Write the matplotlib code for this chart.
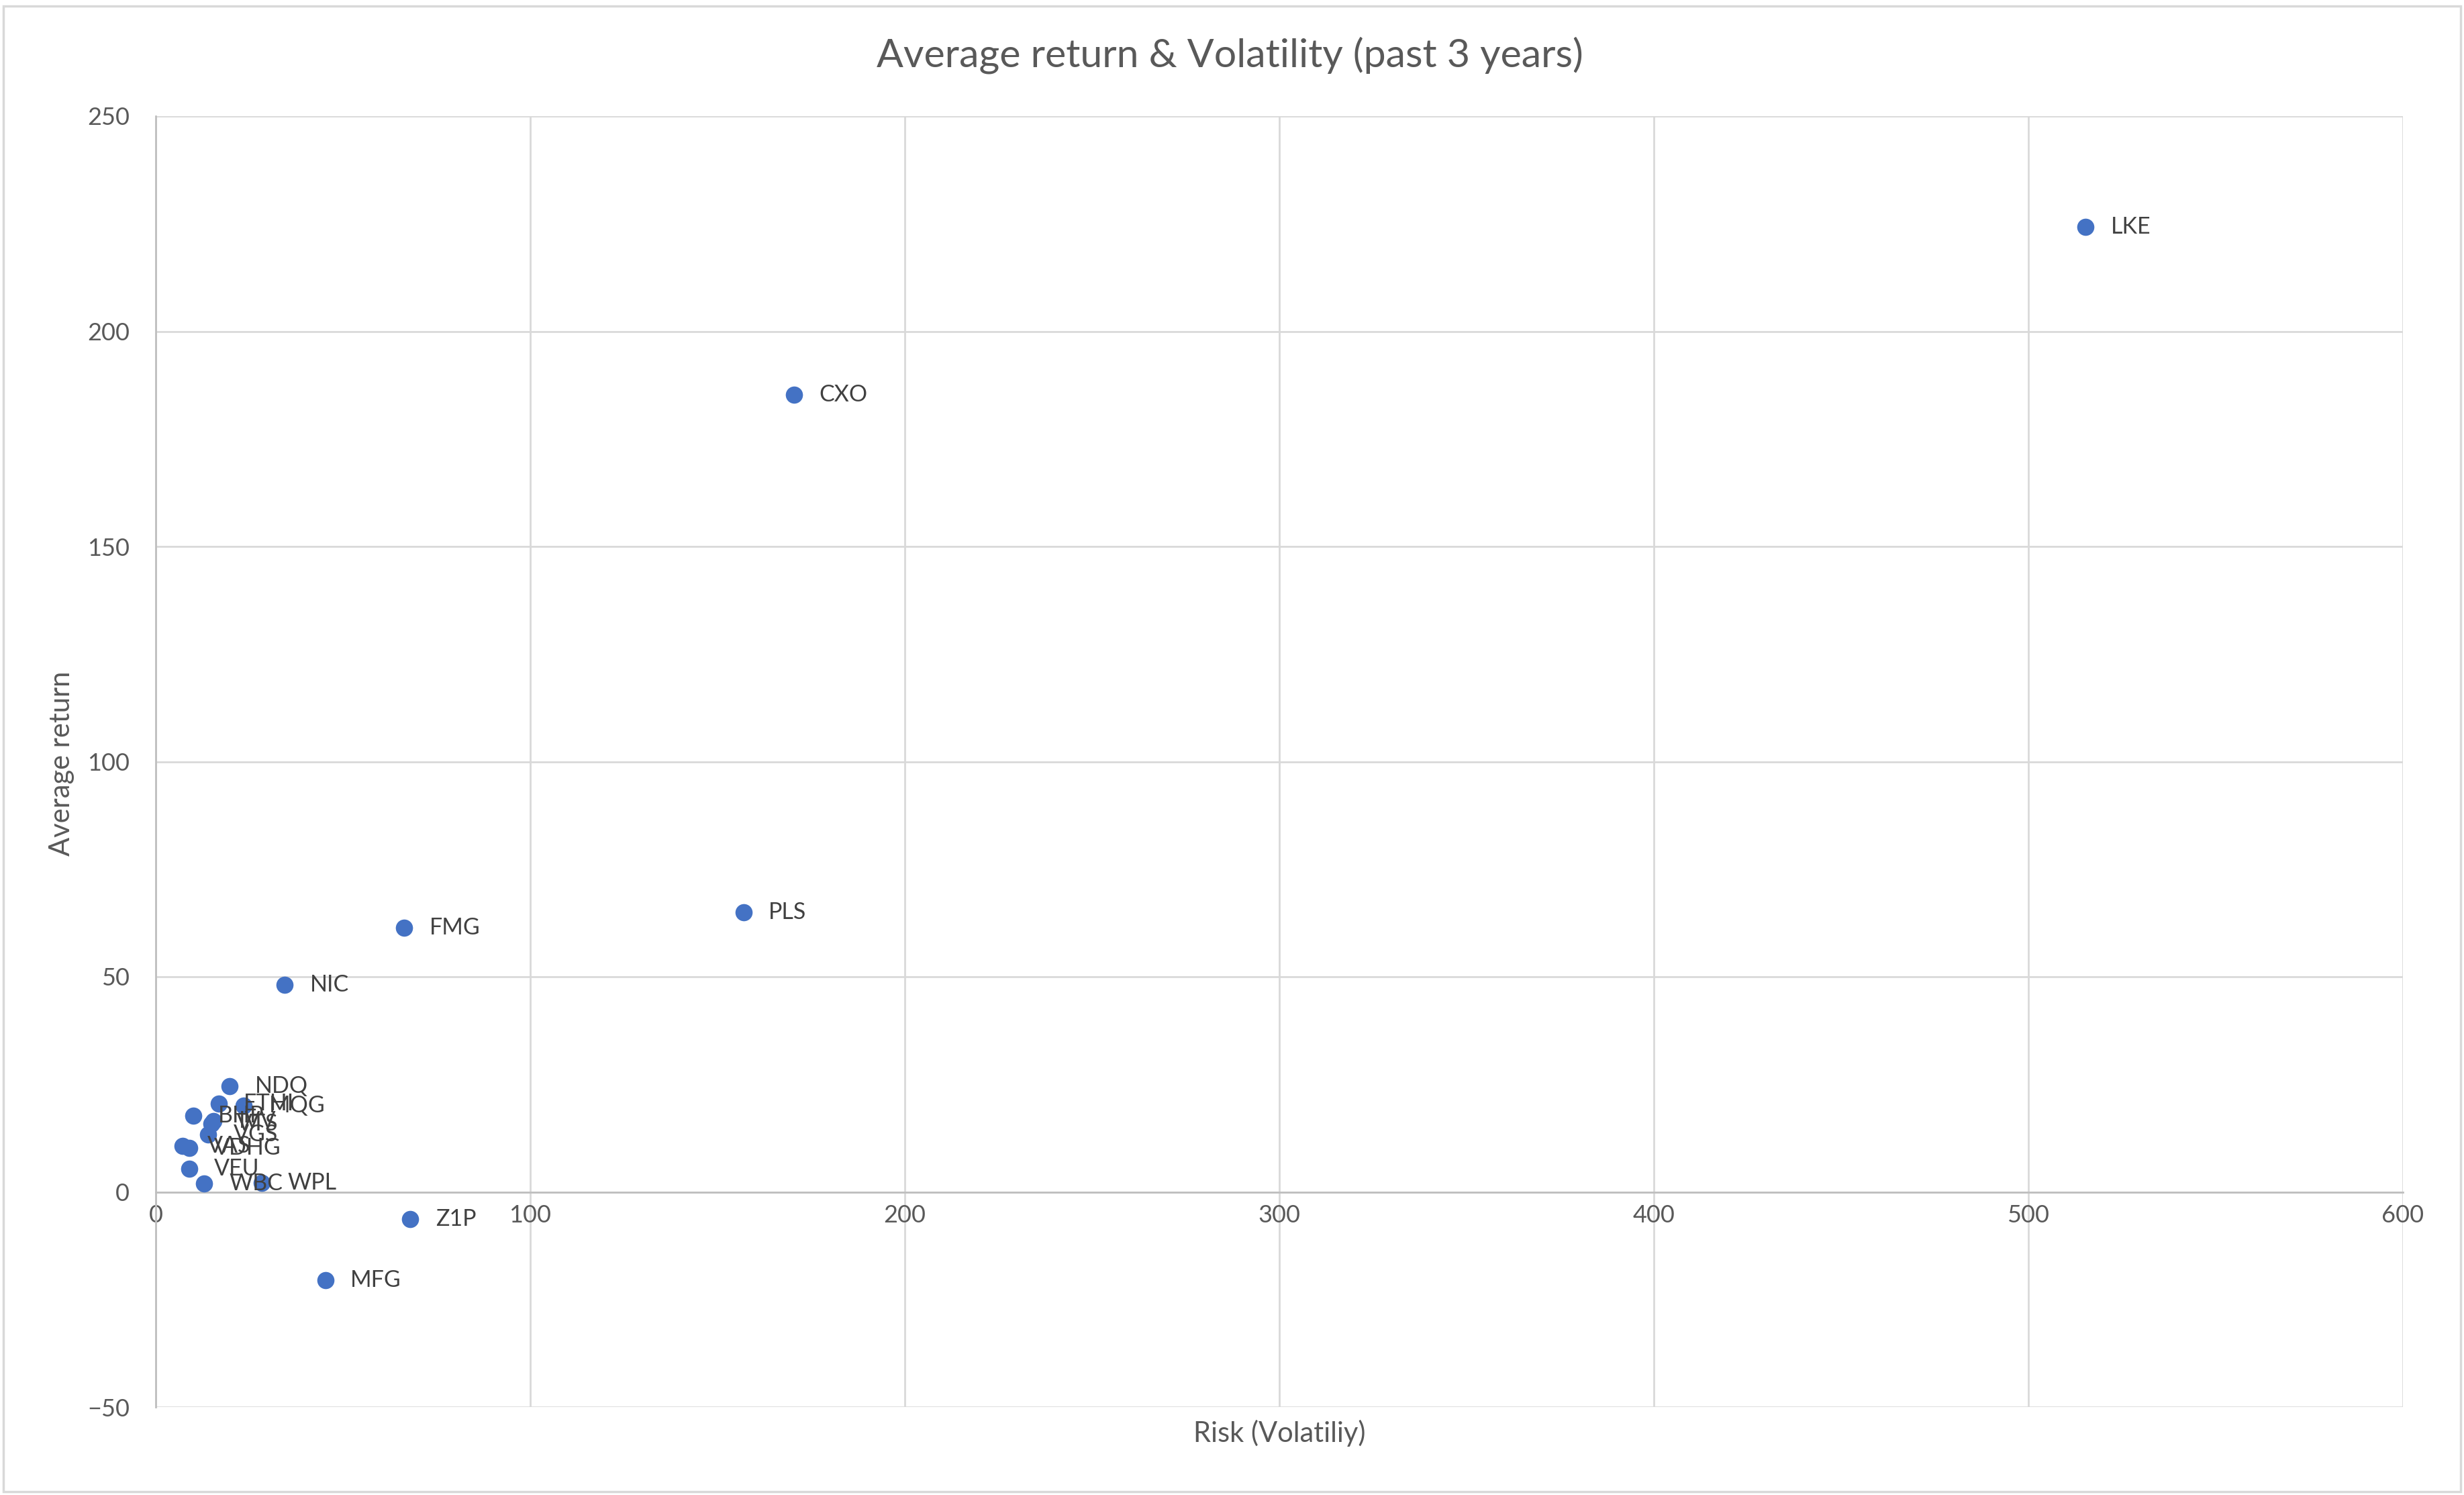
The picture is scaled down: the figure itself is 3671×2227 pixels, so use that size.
import matplotlib
matplotlib.use("Agg")
import matplotlib.pyplot as plt
from matplotlib.patches import Rectangle

# Data
tickers = ["LKE", "CXO", "PLS", "FMG", "NIC", "Z1P", "MFG", "NDQ", "ETHI", "MQG",
           "BHP", "IVV", "VTS", "VGS", "VAS", "VDHG", "VEU", "WBC", "WPL"]
risk = [515.3, 170.4, 156.9, 66.3, 34.4, 68.0, 45.3, 19.8, 16.8, 23.5,
        10.0, 15.5, 14.9, 14.0, 7.1, 8.9, 8.9, 12.9, 28.4]
avg_return = [224.3, 185.2, 65.0, 61.4, 48.2, -6.3, -20.5, 24.5, 20.5, 20.1,
              17.7, 16.5, 15.9, 13.3, 10.75, 10.2, 5.4, 1.9, 2.1]

x_ticks = [0, 100, 200, 300, 400, 500, 600]
y_ticks = [-50, 0, 50, 100, 150, 200, 250]

title = "Average return & Volatility (past 3 years)"
x_label = "Risk (Volatiliy)"
y_label = "Average return"

plt.rcParams['font.family'] = ['Lato', 'DejaVu Sans']

W, H, DPI = 3671, 2227, 100
fig = plt.figure(figsize=(W / DPI, H / DPI), dpi=DPI)
fig.patch.set_facecolor("white")

left, right, top, bottom = 232, 3580, 173, 2096
ax = fig.add_axes([left / W, 1 - bottom / H, (right - left) / W, (bottom - top) / H])

grid_c = "#D9D9D9"
text_c = "#595959"

ax.set_xlim(0, 600)
ax.set_ylim(-50, 250)
ax.set_xticks(x_ticks)
ax.set_yticks(y_ticks)
ax.grid(True, color=grid_c, linewidth=2.0, zorder=0)
ax.set_axisbelow(True)

for s in ["top", "right"]:
    ax.spines[s].set_visible(False)
ax.spines["bottom"].set_position(("data", 0))
ax.spines["bottom"].set_color("#BFBFBF")
ax.spines["bottom"].set_linewidth(2.0)
ax.spines["left"].set_color("#BFBFBF")
ax.spines["left"].set_linewidth(2.0)

ax.tick_params(axis="both", length=0, labelsize=26, labelcolor=text_c)
ax.tick_params(axis="x", pad=13)
ax.tick_params(axis="y", pad=28)

ax.scatter(risk, avg_return, s=340, color="#4472C4", zorder=3, linewidths=0)

for t, xv, yv in zip(tickers, risk, avg_return):
    ax.annotate(t, (xv, yv), xytext=(27, 0), textcoords="offset points",
                ha="left", va="center", fontsize=24.5, color="#404040", zorder=4)

fig.text(1832 / W, 1 - 100 / H, title, ha="center", va="baseline", fontsize=42.5, color=text_c)
fig.text(1906 / W, 1 - 2148 / H, x_label, ha="center", va="baseline", fontsize=30, color=text_c)
fig.text(92 / W, 1 - 1275 / H, y_label, ha="center", va="bottom", rotation=90, fontsize=30, color=text_c)

fig.patches.append(Rectangle((5 / W, 5 / H), (W - 10) / W, (H - 14) / H,
                             transform=fig.transFigure, fill=False,
                             edgecolor="#D9D9D9", linewidth=2.5))

fig.savefig("out.png", dpi=DPI)
